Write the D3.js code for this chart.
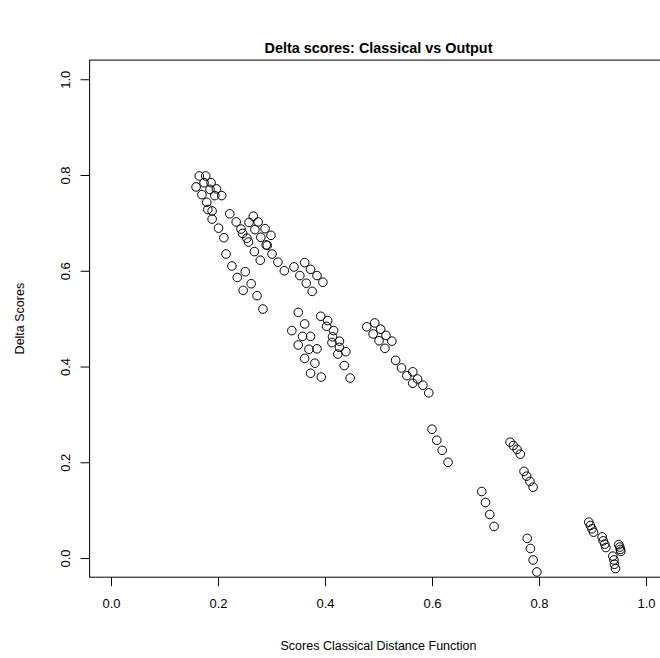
<!DOCTYPE html>
<html lang="en">

<head>
    <meta charset="UTF-8">
    <title>Delta scores: Classical vs Output</title>
    <script src="https://d3js.org/d3.v7.min.js"></script>
    <style>
        body { margin: 0; background: #fff; }
        text { font-family: "Liberation Sans", Arial, Helvetica, sans-serif; fill: #000; }
    </style>
</head>

<body>
    <script>
        // values
        var classical = [
            0.165, 0.177, 0.174, 0.187, 0.159, 0.185, 0.197, 0.170, 0.194, 0.207, 0.179, 0.181, 0.189, 0.189, 0.201, 0.211,
            0.222, 0.234, 0.243, 0.246, 0.254, 0.257, 0.266, 0.258, 0.275, 0.269, 0.288, 0.280, 0.299, 0.290, 0.292, 0.268,
            0.301, 0.279, 0.312, 0.324,
            0.215, 0.226, 0.236, 0.251, 0.247, 0.262, 0.273, 0.284,
            0.342, 0.362, 0.373, 0.353, 0.385, 0.365, 0.396, 0.376,
            0.350, 0.362, 0.338, 0.358, 0.373, 0.350, 0.370, 0.385, 0.362, 0.381, 0.373, 0.393,
            0.392, 0.405, 0.403, 0.416, 0.414, 0.413, 0.427, 0.427, 0.424, 0.439, 0.436, 0.447,
            0.478, 0.493, 0.504, 0.490, 0.514, 0.501, 0.525, 0.512,
            0.532, 0.543, 0.553, 0.564, 0.573, 0.564, 0.583, 0.594,
            0.600, 0.609, 0.619, 0.630,
            0.746, 0.752, 0.759, 0.765, 0.772, 0.777, 0.783, 0.789,
            0.693, 0.700, 0.708, 0.716,
            0.778, 0.784, 0.789, 0.796,
            0.893, 0.896, 0.899, 0.902, 0.918, 0.920, 0.923, 0.925,
            0.949, 0.951, 0.952, 0.953, 0.938, 0.940, 0.941, 0.943
        ];
        var delta = [
            0.798, 0.798, 0.784, 0.784, 0.775, 0.770, 0.771, 0.759, 0.757, 0.757, 0.743, 0.728, 0.725, 0.708, 0.689, 0.669,
            0.719, 0.702, 0.687, 0.678, 0.668, 0.660, 0.714, 0.701, 0.702, 0.686, 0.688, 0.670, 0.674, 0.654, 0.653, 0.640,
            0.635, 0.622, 0.618, 0.600,
            0.635, 0.610, 0.586, 0.598, 0.559, 0.573, 0.548, 0.520,
            0.608, 0.617, 0.603, 0.590, 0.590, 0.574, 0.576, 0.557,
            0.513, 0.489, 0.475, 0.463, 0.463, 0.445, 0.436, 0.437, 0.417, 0.407, 0.386, 0.378,
            0.505, 0.496, 0.484, 0.475, 0.462, 0.450, 0.453, 0.440, 0.426, 0.431, 0.402, 0.376,
            0.483, 0.491, 0.478, 0.468, 0.465, 0.454, 0.453, 0.438,
            0.413, 0.397, 0.381, 0.389, 0.374, 0.365, 0.361, 0.345,
            0.269, 0.246, 0.225, 0.200,
            0.242, 0.235, 0.227, 0.217, 0.181, 0.171, 0.160, 0.148,
            0.139, 0.116, 0.091, 0.066,
            0.041, 0.020, -0.004, -0.029,
            0.075, 0.068, 0.061, 0.054, 0.044, 0.036, 0.029, 0.022,
            0.028, 0.023, 0.018, 0.014, 0.004, -0.004, -0.013, -0.022
        ];
        var xTicks = [0, 0.2, 0.4, 0.6, 0.8, 1.0];
        var yTicks = [0, 0.2, 0.4, 0.6, 0.8, 1.0];

        var width = 660, height = 658;

        var svg = d3.select("body")
            .append("svg")
            .attr("width", width)
            .attr("height", height);

        // R pads the [0,1] limits by 4% on each side
        var x = d3.scaleLinear().domain([-0.04, 1.04]).range([89.6, 667.4]);
        var y = d3.scaleLinear().domain([-0.04, 1.04]).range([577.2, 60.1]);

        var fmt = d3.format(".1f");

        // x axis
        var xAxis = svg.append("g")
            .attr("transform", "translate(0," + y(-0.04) + ")")
            .call(d3.axisBottom(x).tickValues(xTicks).tickFormat(fmt).tickSize(9).tickSizeOuter(0).tickPadding(13));
        xAxis.select(".domain").remove();
        xAxis.selectAll(".tick line").attr("stroke", "#000");
        xAxis.selectAll(".tick text").attr("font-size", "13px").style("font-family", null);

        // y axis, labels turned like R's las = 0
        var yAxis = svg.append("g")
            .attr("transform", "translate(" + x(-0.04) + ",0)")
            .call(d3.axisLeft(y).tickValues(yTicks).tickFormat(fmt).tickSize(9).tickSizeOuter(0));
        yAxis.select(".domain").remove();
        yAxis.selectAll(".tick line").attr("stroke", "#000");
        yAxis.selectAll(".tick text")
            .attr("x", null)
            .attr("dy", null)
            .attr("text-anchor", "middle")
            .attr("font-size", "13px")
            .attr("transform", "translate(-20,0) rotate(-90)");

        // plot box
        svg.append("rect")
            .attr("x", x(-0.04))
            .attr("y", y(1.04))
            .attr("width", x(1.04) - x(-0.04))
            .attr("height", y(-0.04) - y(1.04))
            .attr("fill", "none")
            .attr("stroke", "#000")
            .attr("stroke-width", 1);

        // points
        svg.append("g")
            .selectAll("circle")
            .data(classical)
            .join("circle")
            .attr("cx", function (d) { return x(d); })
            .attr("cy", function (d, i) { return y(delta[i]); })
            .attr("r", 4.3)
            .attr("fill", "none")
            .attr("stroke", "#000")
            .attr("stroke-width", 1);

        // titles
        svg.append("text")
            .attr("x", 378.5)
            .attr("y", 53)
            .attr("text-anchor", "middle")
            .attr("font-size", "14.4px")
            .attr("font-weight", "bold")
            .text("Delta scores: Classical vs Output");

        svg.append("text")
            .attr("x", 378.5)
            .attr("y", 650)
            .attr("text-anchor", "middle")
            .attr("font-size", "12.5px")
            .text("Scores Classical Distance Function");

        svg.append("text")
            .attr("transform", "translate(24," + 318.6 + ") rotate(-90)")
            .attr("text-anchor", "middle")
            .attr("font-size", "12.5px")
            .text("Delta Scores");
    </script>
</body>

</html>
